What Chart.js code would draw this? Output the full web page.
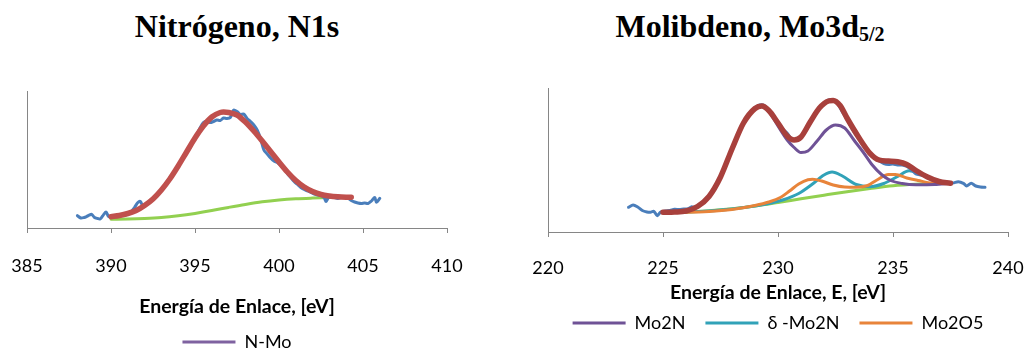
<!DOCTYPE html>
<html>
<head>
<meta charset="utf-8">
<script src="https://cdn.jsdelivr.net/npm/chart.js@4.4.1/dist/chart.umd.min.js"></script>
<style>
  html, body { margin: 0; padding: 0; background: #fff; overflow: hidden; }
  body { width: 1024px; height: 349px; position: relative; }
  .title {
    position: absolute; top: 10px; text-align: center;
    font-family: "Liberation Serif", "Times New Roman", serif;
    font-weight: bold; font-size: 32px; line-height: 32px; color: #000;
    white-space: nowrap;
  }
  .title .sub { font-size: 20px; vertical-align: -4px; line-height: 0; }
  canvas { position: absolute; top: 0; }
</style>
</head>
<body>
<div class="title" style="left:0; width:474px;">Nitrógeno, N1s</div>
<div class="title" style="left:500px; width:500px;">Molibdeno, Mo3d<span class="sub">5/2</span></div>
<canvas id="n1s" width="512" height="380" style="left:0;"></canvas>
<canvas id="mo3d" width="512" height="380" style="left:512px;"></canvas>
<script>
// ---------- N1s spectrum ----------
const n1sTicks = [385, 390, 395, 400, 405, 410];

const n1sDataE = [388.0, 388.2, 388.4, 388.55, 388.7, 388.85, 389.0, 389.2, 389.35, 389.5, 389.7, 389.85,
  390.0, 390.2, 390.4, 390.6, 390.8, 391.0, 391.2, 391.4, 391.6, 391.75, 391.9, 392.1, 392.3, 392.5,
  392.7, 392.9, 393.1, 393.3, 393.5, 393.7, 393.9, 394.1, 394.3, 394.5, 394.7, 394.9, 395.1, 395.3,
  395.5, 395.7, 395.9, 396.1, 396.3, 396.5, 396.7, 396.9, 397.1, 397.3, 397.5, 397.7, 397.9, 398.1,
  398.3, 398.5, 398.7, 398.9, 399.1, 399.3, 399.5, 399.7, 399.9, 400.1, 400.3, 400.5, 400.7, 400.9,
  401.1, 401.3, 401.5, 401.7, 401.9, 402.1, 402.3, 402.5, 402.7, 402.8, 402.95, 403.1, 403.3, 403.5,
  403.7, 403.9, 404.1, 404.3, 404.5, 404.7, 404.9, 405.1, 405.3, 405.5, 405.7, 405.8, 406.0];
const n1sDataI = [12.3, 10.0, 10.5, 11.5, 12.8, 13.7, 10.8, 9.5, 9.0, 12.0, 16.0, 11.5,
  11.0, 11.5, 12.5, 13.5, 13.0, 13.5, 16.0, 20.5, 25.5, 26.5, 22.0, 23.5, 27.0, 30.0,
  32.5, 36.0, 40.5, 45.5, 50.0, 54.5, 60.0, 65.0, 70.5, 76.0, 80.0, 87.0, 93.0, 100.0,
  105.5, 106.5, 105.5, 106.5, 108.0, 107.5, 110.0, 109.5, 110.5, 118.0, 116.5, 113.5, 114.0, 109.5,
  106.5, 103.0, 98.0, 89.5, 78.0, 74.0, 70.0, 67.0, 65.5, 62.5, 59.5, 54.5, 50.5, 46.5,
  43.5, 40.5, 38.5, 37.0, 35.5, 34.0, 33.0, 32.5, 30.0, 26.5, 30.5, 31.5, 30.5, 29.5,
  30.5, 31.0, 30.0, 27.5, 26.0, 25.0, 24.5, 25.0, 24.5, 27.0, 30.5, 25.7, 29.7];

const n1sFitE = [390.0, 390.5, 391.0, 391.5, 392.0, 392.5, 393.0, 393.5, 394.0, 394.5, 395.0, 395.5,
  396.0, 396.5, 396.7, 397.0, 397.5, 398.0, 398.5, 399.0, 399.5, 400.0, 400.5, 401.0, 401.5, 402.0,
  402.5, 403.0, 403.5, 404.0, 404.3];
const n1sFitI = [11.3, 12.5, 14.5, 17.5, 22.5, 29, 38, 49, 62, 76, 90, 102,
  111, 115.5, 116, 115.5, 113, 106, 97, 87, 76.5, 66, 56, 47.5, 41, 36.5,
  33.5, 32, 31.2, 30.8, 30.7];
// single component: N-Mo coincides with the envelope
const nMoI = [11.3, 12.5, 14.5, 17.5, 22.5, 29, 38, 49, 62, 76, 90, 102,
  111, 115.5, 116, 115.5, 113, 106, 97, 87, 76.5, 66, 56, 47.5, 41, 36.5,
  33.5, 32, 31.2, 30.8, 30.7];

const n1sBgE = [390, 391, 392, 393, 394, 395, 396, 397, 398, 399, 400, 401, 402, 403, 404];
const n1sBgI = [8.7, 9.0, 9.6, 10.6, 12.3, 14.6, 17.4, 20.6, 23.6, 26.2, 28.0, 29.2, 29.9, 30.4, 30.7];

// ---------- Mo3d5/2 spectrum ----------
const moTicks = [220, 225, 230, 235, 240];

const moDataE = [223.5, 223.7, 223.9, 224.1, 224.3, 224.45, 224.6, 224.75, 224.9, 225.1, 225.3, 225.5,
  225.7, 225.9, 226.1, 226.25, 226.4, 226.6, 226.8, 227.0, 227.2, 227.4, 227.6, 227.8, 228.0, 228.2,
  228.4, 228.6, 228.8, 229.0, 229.2, 229.4, 229.6, 229.8, 230.0, 230.2, 230.4, 230.6, 230.8, 231.0,
  231.2, 231.4, 231.6, 231.8, 232.0, 232.2, 232.4, 232.6, 232.8, 233.0, 233.2, 233.4, 233.6, 233.8,
  234.0, 234.2, 234.4, 234.6, 234.8, 235.0, 235.2, 235.4, 235.6, 235.8, 236.0, 236.2, 236.4, 236.6,
  236.8, 237.0, 237.2, 237.4, 237.6, 237.84, 238.06, 238.2, 238.4, 238.6, 238.8, 239.0];
const moDataI = [24.7, 27.0, 25.0, 21.5, 20.0, 19.7, 20.7, 16.3, 20.0, 21.0, 21.5, 22.7,
  22.5, 23.0, 23.3, 25.3, 24.5, 27.5, 31.5, 36.0, 43.0, 51.0, 61.5, 72.0, 83.5, 94.0,
  104.0, 112.0, 118.5, 124.0, 127.0, 126.5, 121.0, 115.0, 109.5, 103.0, 98.7, 92.5, 92.0, 95.5,
  101.0, 109.0, 117.0, 124.0, 128.5, 132.0, 131.5, 128.0, 120.0, 112.5, 104.0, 97.0, 90.0, 84.0,
  79.0, 74.5, 71.0, 68.5, 67.5, 68.0, 67.0, 67.0, 65.5, 62.5, 58.0, 57.0, 56.5, 53.5,
  52.0, 50.5, 50.0, 49.5, 49.0, 50.3, 48.7, 46.0, 48.7, 46.0, 45.0, 44.7];

const moFitE = [225.0, 225.5, 226.0, 226.5, 227.0, 227.5, 228.0, 228.5, 229.0, 229.3, 229.6, 230.0,
  230.4, 230.7, 231.0, 231.4, 231.8, 232.2, 232.4, 232.7, 233.0, 233.5, 234.0, 234.4, 234.8, 235.2,
  235.6, 236.0, 236.5, 237.0, 237.5];
const moFitI = [19.7, 20.0, 21.0, 25.5, 35.5, 55, 83, 109, 123.5, 126, 121.5, 109,
  96, 92, 95, 110, 124, 131, 131.5, 126.5, 114, 95, 78.7, 72, 71, 70.2,
  67.5, 61.5, 55, 50.5, 48.7];

const mo2nE = [225.0, 225.5, 226.0, 226.5, 227.0, 227.5, 228.0, 228.5, 229.0, 229.3, 229.6, 230.0,
  230.4, 230.7, 231.0, 231.3, 231.7, 232.1, 232.5, 232.9, 233.3, 233.7, 234.1, 234.5, 234.9, 235.4,
  236.0, 236.8, 237.5];
const mo2nI = [19.7, 20.0, 21.0, 25.5, 35.5, 55, 83, 109, 123, 125.5, 120.5, 106,
  92, 84.5, 79.5, 81, 91, 102, 107, 104, 92, 80, 67, 57.5, 51.5, 48.5,
  47.3, 47.5, 48.7];

const deltaMo2nE = [225.0, 226.0, 227.0, 228.0, 229.0, 229.6, 230.2, 230.9, 231.5, 232.0, 232.35, 232.8,
  233.4, 234.0, 234.6, 235.2, 235.7, 236.2, 236.9, 237.5];
const deltaMo2nI = [19.7, 20.0, 21.0, 23.0, 26.0, 28.5, 32, 38.5, 48, 57, 60, 56,
  47.5, 45.3, 48.5, 55.5, 61.3, 58, 50.5, 48.7];

const mo2o5E = [225.0, 226.0, 227.0, 228.0, 229.0, 229.6, 230.1, 230.5, 230.9, 231.3, 231.5, 231.9,
  232.4, 232.9, 233.4, 233.9, 234.3, 234.8, 235.1, 235.6, 236.1, 236.7, 237.5];
const mo2o5I = [19.7, 19.8, 20.5, 22.5, 26.5, 30, 34.5, 41, 48, 52.3, 52.7, 51,
  47, 45, 44.8, 46.5, 52, 57.5, 57.5, 54, 51.5, 49, 48.7];

const moBgE = [225, 226, 227, 228, 229, 230, 231, 232, 233, 234, 235, 236, 237, 237.5];
const moBgI = [19.7, 20.0, 21.3, 23.3, 26.0, 29.5, 33.2, 36.8, 40.3, 43.5, 46.3, 47.8, 48.5, 48.7];

// ---------- helpers ----------
const pts = (xs, ys) => xs.map((x, i) => ({ x, y: ys[i] }));
const FONT_FAMILY = 'Lato, "Open Sans", sans-serif';
const LEGEND_FONT = { family: FONT_FAMILY, size: 18 };
const AXIS_GRAY = '#868686';

function line(label, xs, ys, color, width, order, smooth) {
  return {
    label, data: pts(xs, ys), order,
    borderColor: color, backgroundColor: color, borderWidth: width,
    pointRadius: 0, fill: false,
    cubicInterpolationMode: smooth ? 'monotone' : 'default',
    tension: smooth ? 0 : 0.3,
    borderCapStyle: 'round', borderJoinStyle: 'round'
  };
}

function makeOptions(cfg) {
  return {
    responsive: false, animation: false,
    layout: { padding: cfg.padding },
    scales: {
      x: {
        type: 'linear', min: cfg.ticks[0], max: cfg.ticks[cfg.ticks.length - 1],
        afterBuildTicks: s => { s.ticks = cfg.ticks.map(v => ({ value: v })); },
        grid: { display: true, drawOnChartArea: false, drawTicks: true, tickLength: 5, color: AXIS_GRAY },
        border: { display: true, color: AXIS_GRAY, width: 1 },
        // tall line box pushes the labels well below the axis, as in the printed figure
        ticks: { font: { family: FONT_FAMILY, size: 18, lineHeight: cfg.tickLineHeight },
                 color: '#000', padding: 0, maxRotation: 0 },
        title: {
          display: true, text: cfg.xTitle, color: '#000',
          font: { family: FONT_FAMILY, size: 19.5, weight: 'bold' },
          padding: cfg.titlePad
        }
      },
      y: {
        type: 'linear', min: 0, max: cfg.yMax,
        grid: { display: false, drawTicks: false },
        border: { display: true, color: AXIS_GRAY, width: 1 },
        ticks: { display: false }
      }
    },
    plugins: {
      title: { display: false },
      tooltip: { enabled: false },
      legend: {
        display: true, position: 'bottom',
        labels: {
          font: LEGEND_FONT, color: '#000', boxWidth: 53, boxHeight: 3, padding: cfg.legendPad,
          filter: item => cfg.legend.includes(item.text),
          sort: (a, b) => a.datasetIndex - b.datasetIndex,
          generateLabels: chart => Chart.defaults.plugins.legend.labels.generateLabels(chart)
            .map(l => Object.assign(l, { lineWidth: 0 }))
        }
      }
    }
  };
}

new Chart(document.getElementById('n1s'), {
  type: 'line',
  data: {
    datasets: [
      line('Ajuste', n1sFitE, n1sFitI, '#C0504D', 5.5, 0, true),
      line('Datos', n1sDataE, n1sDataI, '#4A7EBB', 3, 1, false),
      line('N-Mo', n1sFitE, nMoI, '#7F62A0', 3, 2, true),
      line('Fondo', n1sBgE, n1sBgI, '#92D050', 3, 3, true)
    ]
  },
  options: makeOptions({
    ticks: n1sTicks, yMax: 137, xTitle: 'Energía de Enlace, [eV]',
    padding: { left: 27, right: 65, top: 91, bottom: 19 },
    tickLineHeight: 66 / 18, titlePad: { top: -3.7, bottom: 4.3 }, legendPad: 10,
    legend: ['N-Mo']
  })
});

new Chart(document.getElementById('mo3d'), {
  type: 'line',
  data: {
    datasets: [
      line('Ajuste', moFitE, moFitI, '#A8403C', 5.5, 0, true),
      line('Datos', moDataE, moDataI, '#4A7EBB', 3, 1, false),
      line('Mo2N', mo2nE, mo2nI, '#6F5296', 3, 2, true),
      line('δ -Mo2N', deltaMo2nE, deltaMo2nI, '#31A2B8', 3, 4, true),
      line('Mo2O5', mo2o5E, mo2o5I, '#E8843A', 3, 3, true),
      line('Fondo', moBgE, moBgI, '#92D050', 3, 5, true)
    ]
  },
  options: makeOptions({
    ticks: moTicks, yMax: 144, xTitle: 'Energía de Enlace, E, [eV]',
    padding: { left: 36, right: 16, top: 88, bottom: 38 },
    tickLineHeight: 62 / 18, titlePad: { top: -17.7, bottom: -10.7 }, legendPad: 20,
    legend: ['Mo2N', 'δ -Mo2N', 'Mo2O5']
  })
});
</script>
</body>
</html>
